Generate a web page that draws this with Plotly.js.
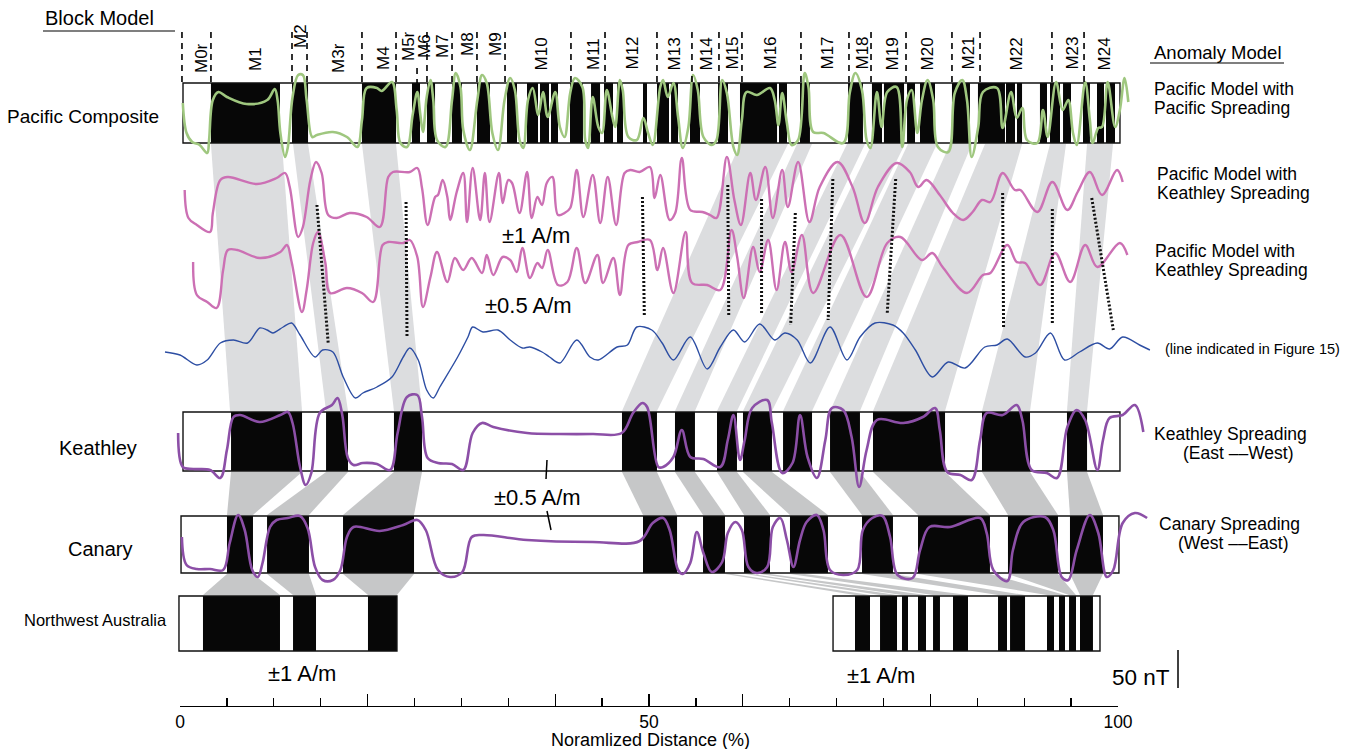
<!DOCTYPE html>
<html><head><meta charset="utf-8">
<script src="https://cdn.plot.ly/plotly-3.0.1.min.js"></script>
<style>html,body{margin:0;padding:0;background:#fff;}#chart{width:1359px;height:749px;}</style>
</head><body><div id="chart"></div>
<script>
// ---------------- DATA (distance in % of normalized distance) ----------------
const chronLabels = ['M0r','M1','M2','M3r','M4','M5r','M6','M7','M8','M9','M10','M11','M12','M13','M14','M15','M16','M17','M18','M19','M20','M21','M22','M23','M24'];
const chronPos = [2.24,7.99,12.79,16.84,21.64,24.31,26.01,27.93,30.60,33.58,38.59,44.03,48.19,52.77,56.18,58.85,62.90,68.98,72.71,76.01,79.74,84.01,89.23,95.10,98.61];
const chronBounds = [0.21,3.30,11.94,13.54,19.40,23.03,25.27,26.33,29.00,31.66,34.65,41.68,45.31,50.85,54.58,57.46,59.91,66.20,71.32,73.67,77.40,82.30,85.29,92.96,96.38];

// Pacific composite block model (normal polarity blocks)
const pacStart = [3.30,11.94,19.40,24.73,26.33,29.00,31.66,34.86,36.99,38.38,39.55,41.58,43.82,45.20,46.59,49.36,50.85,52.35,54.37,57.36,59.70,63.86,66.10,71.22,73.77,75.05,77.51,78.89,82.30,85.07,88.06,89.23,91.68,92.75,94.14,96.27,97.76,98.72];
const pacEnd   = [10.66,13.65,23.03,25.59,27.19,30.06,33.05,35.93,38.17,39.34,40.30,42.96,44.78,46.16,47.23,49.79,52.13,53.09,55.44,58.42,63.65,64.71,67.16,72.81,74.84,77.19,78.36,80.49,84.22,87.95,89.02,89.77,92.43,93.82,94.99,97.01,98.51,99.68];
const keaStart = [5.44,15.57,22.81,47.12,52.77,57.25,60.02,64.29,69.30,73.88,85.50,94.56];
const keaEnd   = [13.01,17.91,25.80,50.85,54.90,59.38,63.11,67.38,72.49,81.56,90.62,96.70];
const canStart = [5.01,9.28,17.38,49.36,55.76,60.13,65.03,72.71,78.68,88.27,94.88];
const canEnd   = [7.78,13.75,24.95,52.99,58.10,62.90,69.08,76.01,86.35,93.60,98.40];
const nwaStart = [2.45,12.05,20.04,71.96,74.63,76.97,78.68,80.28,82.41,87.21,88.49,92.43,93.71,94.78,95.95];
const nwaEnd   = [10.66,14.50,23.13,73.56,76.44,77.61,79.53,81.02,84.01,88.17,90.09,93.18,94.35,95.52,97.33];
const pacBox = [0.32,100.21], keaBox = [0.32,100.21], canBox = [0.11,100.10];
const nwaBoxL = [-0.11,23.13], nwaBoxR = [69.62,98.08];

// Anomaly profiles (x: %, amplitude: arbitrary units, positive up)
const pacX = [0.3,0.7,1.3,2.1,2.9,3.1,3.5,4.1,5.0,7.1,9.3,10.1,10.4,10.7,11.2,11.5,12.0,12.6,13.1,13.5,14.1,14.6,16.3,17.8,18.9,19.4,19.9,21.0,21.5,22.6,23.1,23.5,24.2,24.8,25.3,25.6,25.9,26.3,26.7,27.0,27.4,28.3,29.0,29.4,29.9,30.2,30.9,31.7,32.2,32.7,33.3,33.9,34.6,35.2,35.7,36.2,36.6,37.1,37.6,38.2,38.7,39.2,40.0,40.5,41.0,41.6,42.1,42.9,43.2,43.5,44.0,44.6,45.0,45.5,46.1,46.4,46.9,47.2,47.8,48.7,49.4,49.9,50.4,51.2,51.5,52.0,52.6,53.1,53.6,54.2,54.7,55.2,55.8,56.7,57.2,57.8,58.3,59.0,59.4,59.9,60.4,61.5,62.9,63.4,63.8,64.2,64.7,65.2,65.9,66.6,67.0,67.5,68.6,70.7,71.4,72.0,72.7,73.2,73.6,74.3,74.8,75.4,76.4,77.0,77.5,78.0,78.6,79.1,79.7,80.3,80.8,81.9,82.6,83.4,83.9,84.4,85.1,85.6,87.1,87.7,88.6,89.2,89.8,90.3,91.4,92.0,92.5,93.4,94.1,94.7,95.2,95.6,96.5,97.0,97.3,97.9,98.3,98.9,99.7,100.2,100.7,101.1];
const pacAmp = [10,-20,-29,-32,-40,-27,13,21,16,9,13,24,13,-20,-44,-34,16,38,38,13,-24,-22,-19,-24,-34,-7,25,25,22,31,3,-30,-34,-2,21,0,-19,16,33,13,-27,-34,13,40,26,-17,-37,13,38,30,-20,-37,13,35,23,-27,-35,13,25,-2,21,-4,21,-14,-24,20,35,26,-27,-35,16,-14,-20,23,-4,-14,33,23,-24,-27,-5,-20,-32,26,33,16,30,-4,-35,-14,38,23,-24,-32,-27,33,20,-34,-42,-7,21,18,25,13,-12,20,-10,-32,-27,40,26,-19,-20,-30,20,40,23,-27,-35,21,-14,21,26,-34,13,23,-20,13,33,13,-34,-39,20,33,13,-44,-14,21,25,-15,21,-5,5,-27,-30,3,-24,31,3,13,-20,-32,31,-7,-30,-15,-14,31,-14,3,35,11];

const pk1X = [0.5,0.9,1.8,3.2,3.5,4.3,5.1,8.2,10.3,11.2,11.7,12.6,13.1,13.9,14.5,15.1,15.8,16.7,18.1,19.9,21.3,22.2,22.7,24.5,25.3,25.8,26.4,27.2,27.5,28.0,28.5,28.8,29.5,30.2,30.6,31.2,32.0,32.5,33.0,34.0,34.4,35.0,35.4,36.2,37.0,37.5,38.1,38.6,39.1,39.7,40.3,41.0,41.6,42.3,43.0,44.0,44.8,45.6,46.5,47.4,48.0,49.0,50.1,50.6,51.2,52.2,52.8,53.5,54.4,55.7,56.5,57.2,58.3,59.1,59.8,60.8,61.4,62.4,63.2,64.2,64.8,65.9,67.1,68.2,70.1,71.7,73.0,74.4,76.4,77.8,78.7,79.6,81.0,82.4,83.5,84.5,85.5,86.4,87.7,89.0,89.6,91.4,93.0,94.6,95.7,97.0,98.3,99.9,100.5];
const pk1Amp = [5,-23,-30,-37,-18,15,18,11,17,22,8,-42,-32,15,33,22,-20,-23,-18,-22,-32,18,23,23,27,7,-30,-2,0,15,-2,-25,3,22,-27,27,-25,22,-27,22,-8,15,12,-18,23,-23,-2,-10,12,18,-20,-18,-13,25,-22,20,-28,18,-30,22,25,23,28,-3,20,-25,-18,37,-15,-17,-20,-23,38,-5,-30,22,-5,28,-23,25,-12,33,-27,8,33,8,-28,8,32,23,8,15,0,-18,-25,-17,-5,-7,22,5,5,-17,13,-15,3,23,0,25,13];

const pk2X = [1.4,1.8,2.9,3.9,4.6,5.1,6.1,8.5,10.7,11.4,11.9,13.0,13.5,14.2,14.7,15.5,16.0,17.8,19.4,20.6,21.6,22.2,23.8,24.5,25.3,25.9,26.7,27.4,28.5,29.3,30.2,31.1,32.2,32.7,33.4,34.4,35.2,35.9,36.5,37.3,38.1,38.6,39.2,40.3,41.3,42.3,43.2,44.5,45.1,46.2,46.9,47.8,48.8,50.1,50.9,51.5,52.6,53.9,54.6,56.2,57.6,58.8,59.4,60.1,61.1,61.8,62.7,63.6,64.5,65.2,66.3,67.5,70.4,73.2,75.4,76.8,79.1,80.2,81.3,83.9,85.6,86.4,88.2,89.2,90.1,91.7,93.3,94.9,96.5,97.8,100.2,101.0];
const pk2Amp = [8,-25,-32,-38,0,20,20,12,18,25,8,-42,-20,27,38,7,-23,-18,-23,-32,25,28,27,30,13,-37,-7,18,-12,12,0,12,-3,15,-5,13,10,-2,22,-8,7,2,20,-15,-12,22,-13,15,-13,12,-25,25,28,30,0,22,-23,38,-13,-15,-20,40,13,-28,23,-2,30,-20,28,-2,35,-23,35,-27,27,33,10,17,3,-23,-5,-3,25,8,7,-15,17,-12,25,3,27,15];

const obsX = [-1.6,0.0,1.8,2.9,4.3,5.7,7.2,8.5,9.3,9.9,11.0,11.9,12.8,14.4,15.2,16.3,17.4,18.7,19.5,21.0,22.6,23.8,24.5,25.4,26.3,27.0,27.7,29.6,30.7,31.2,32.3,33.9,35.2,36.5,37.3,38.6,39.4,40.5,42.3,43.7,44.6,46.6,47.7,48.7,50.3,51.4,52.6,54.4,56.2,57.6,59.0,60.2,61.8,63.4,64.5,65.8,67.2,69.3,71.1,72.5,74.1,76.0,77.1,78.4,80.2,81.9,83.7,85.8,87.1,88.2,90.1,91.2,92.8,94.3,95.9,97.8,99.1,100.5,102.3,103.4];
const obsAmp = [3,0,-10,-5,12,15,12,27,25,22,28,32,20,-2,5,3,-22,-43,-38,-32,-22,-2,7,-5,-35,-43,-32,-2,18,28,23,25,15,7,8,3,-2,-8,15,-2,-5,8,10,28,25,12,-5,18,-14,8,25,13,31,15,22,15,-8,28,-5,18,32,30,22,5,-22,-7,-13,8,10,16,-2,2,22,-5,3,12,6,18,10,5];

const keaX = [-0.2,0.3,1.4,3.2,4.3,5.0,5.7,6.4,8.5,10.7,11.5,12.0,12.8,13.4,14.0,14.9,16.2,16.8,17.3,17.9,18.5,19.5,21.0,22.4,23.2,24.2,25.3,25.8,26.4,27.5,29.0,30.2,31.2,32.2,33.4,37.0,40.5,44.0,47.1,48.3,49.3,49.8,51.0,51.5,52.6,53.5,54.4,55.8,57.6,58.4,59.0,59.7,60.2,61.0,62.6,63.1,64.2,65.3,66.1,66.9,67.9,68.8,69.5,70.7,71.6,72.4,73.2,74.3,77.1,79.2,80.5,81.0,81.8,83.2,84.4,85.3,86.0,87.7,89.2,89.8,90.8,92.4,93.5,94.6,95.6,96.5,97.8,98.4,99.1,100.5,101.8,102.7];
const keaAmp = [8,-26,-28,-29,-37,-9,24,26,19,26,29,18,-26,-44,-32,28,36,43,26,-17,-24,-22,-23,-29,8,44,46,24,-17,-22,-23,-29,8,18,14,8,7,7,8,28,38,34,-26,-26,-16,11,-16,-18,-26,1,26,-19,1,33,41,18,-32,-22,26,-16,-37,1,33,31,4,-46,-9,21,18,24,33,11,-31,-34,-39,1,28,26,36,21,-29,-32,-37,14,31,21,-29,1,23,26,36,9];

const canX = [0.2,0.7,1.8,3.2,4.6,5.3,6.2,6.9,7.7,8.3,8.8,9.6,10.3,11.5,12.8,13.6,14.4,15.2,16.3,17.1,17.8,18.5,21.3,23.8,25.3,26.2,27.5,28.8,30.1,31.1,32.3,37.0,44.0,49.0,50.4,51.5,52.2,53.1,53.6,54.4,55.1,55.8,56.7,57.8,58.4,59.2,59.9,60.6,61.5,62.6,63.2,64.0,64.7,65.4,66.1,66.8,67.9,68.6,69.3,70.7,72.2,72.8,73.8,74.9,75.7,76.5,78.1,78.9,79.9,82.1,85.3,86.0,86.7,88.2,88.8,89.9,92.2,93.1,94.0,94.7,95.6,97.0,97.9,98.8,99.5,100.5,101.8,103.1];
const canAmp = [8,-20,-24,-24,-25,2,30,15,-25,-32,-18,18,25,27,29,17,-22,-35,-35,-25,8,18,14,20,25,15,-25,-32,-27,8,10,5,3,4,22,27,15,-25,-29,-18,13,-8,-27,-17,12,23,15,-22,-28,-22,18,27,5,-22,5,23,30,15,-25,-30,-25,15,27,29,8,-30,-33,-5,18,18,27,12,-25,-36,-5,23,28,15,-32,-35,-5,30,12,-32,-25,22,32,27];

// Correlation bands: [upper start, upper end, lower start, lower end]
const pacKeaBands = [[3.30,10.87,5.33,13.01],[12.05,13.65,15.57,17.91],[19.40,23.03,22.81,25.80],[59.70,64.82,47.12,50.85],[65.78,67.38,52.77,54.90],[71.11,73.03,57.25,59.38],[73.77,77.29,60.02,63.11],[77.61,80.70,64.29,67.38],[82.09,84.43,69.30,72.49],[85.82,89.77,73.88,81.56],[92.75,94.46,85.50,90.62],[96.70,99.47,94.56,96.70]];
const keaCanBands = [[5.44,13.01,5.01,7.78],[15.57,17.91,9.28,13.75],[22.81,25.80,17.38,24.95],[47.12,50.85,49.36,52.99],[52.77,54.90,55.76,58.10],[57.25,59.38,60.13,62.90],[60.02,63.11,65.03,69.08],[69.30,72.49,72.71,76.01],[73.88,81.56,78.68,86.35],[85.50,90.62,88.27,93.60],[94.56,96.70,94.88,98.40]];
const canNwaBands = [[5.01,7.78,2.45,10.66],[9.28,13.75,12.05,14.50],[17.38,24.95,20.04,23.13],[58.10,58.96,71.96,73.56],[60.23,60.98,74.63,76.44],[61.83,62.90,76.97,79.53],[65.03,66.63,80.28,84.01],[72.71,76.01,87.21,90.09],[78.68,86.35,92.43,94.35],[88.27,93.60,94.78,95.52],[94.88,98.40,95.95,97.33]];

// Picked correlation ticks (dotted): top x, bottom x (%)
const dotTopX = [14.6,24.1,49.3,58.4,62.0,65.6,69.6,76.3,87.7,93.0,97.2];
const dotBotX = [15.8,24.2,49.5,58.5,62.0,65.1,69.1,75.4,87.8,93.0,99.5];

// ---------------- LAYOUT helpers (pixel rows) ----------------
const FONT = 'Liberation Sans, Arial, Helvetica, sans-serif';
const W = 1359, H = 749, X0 = 180, PPU = 9.38;
const X = px => (px - X0) / PPU;
const R = {pacTop:83, pacBot:143, pacMid:113, pk1:195, pk2:270, obs:355, keaTop:412, keaBot:471, keaMid:441, canTop:516, canBot:573, canMid:545, nwaTop:596, nwaBot:651};
const dotTopY = [205,202,197,185,199,213,179,179,193,209,198];
const dotBotY = [343,338,315,315,315,325,320,313,328,325,330];
const chronBottom = [75,73,50,75,72,63,60,60,58,58,72,72,72,72,72,72,72,72,72,72,72,72,72,72,72];

const shapes = [];
const LIGHT = '#dcdddf', DARK = '#c6c7c8', BLK = '#070707';
function band(b, yT, yB, col){
  shapes.push({type:'path', xref:'x', yref:'y', layer:'below', line:{width:0}, fillcolor:col,
    path:`M${b[0]},${yT} L${b[1]},${yT} L${b[3]},${yB} L${b[2]},${yB} Z`});
}
pacKeaBands.forEach(b => band(b, R.pacBot+1, R.keaTop-1, LIGHT));
keaCanBands.forEach(b => band(b, R.keaBot+1, R.canTop-1, DARK));
canNwaBands.forEach(b => band(b, R.canBot+1, R.nwaTop-1, DARK));

function blocks(s, e, y0, y1){
  for (let i=0;i<s.length;i++) shapes.push({type:'rect', xref:'x', yref:'y', layer:'below', x0:s[i], x1:e[i], y0:y0, y1:y1, fillcolor:BLK, line:{width:0}});
}
function box(b, y0, y1){
  shapes.push({type:'rect', xref:'x', yref:'y', layer:'below', x0:b[0], x1:b[1], y0:y0, y1:y1, fillcolor:'rgba(0,0,0,0)', line:{color:'#111', width:1.4}});
}
blocks(pacStart, pacEnd, R.pacTop, R.pacBot); box(pacBox, R.pacTop, R.pacBot);
blocks(keaStart, keaEnd, R.keaTop, R.keaBot); box(keaBox, R.keaTop, R.keaBot);
blocks(canStart, canEnd, R.canTop, R.canBot); box(canBox, R.canTop, R.canBot);
blocks(nwaStart, nwaEnd, R.nwaTop, R.nwaBot); box(nwaBoxL, R.nwaTop, R.nwaBot); box(nwaBoxR, R.nwaTop, R.nwaBot);

// chron boundary dashes
chronBounds.forEach((c,i) => shapes.push({type:'line', xref:'x', yref:'y', x0:c, x1:c, y0:(i===6?68:32), y1:R.pacTop, line:{color:'#000', width:1.6, dash:'6px,5px'}}));

// underlines, scale bar and small tick lines
const plain = (x0,y0,x1,y1,w) => shapes.push({type:'line', xref:'x', yref:'y', x0:X(x0), x1:X(x1), y0:y0, y1:y1, line:{color:'#000', width:w}});
plain(43,31,175,31,1.2);
plain(1150,63,1284,63,1.2);
plain(1178,650,1178,688,1.5);
plain(547,460,546,479,1.5);
plain(547,511,551,530,1.5);

// ---------------- TRACES ----------------
function curve(xs, amps, base, color, width, sm){
  const n = Math.min(xs.length, amps.length);
  return {x:xs.slice(0,n), y:amps.slice(0,n).map(a => base - a), xaxis:'x', yaxis:'y', mode:'lines',
    line:{color:color, width:width, shape:'spline', smoothing:sm}, hoverinfo:'skip', showlegend:false};
}
const traces = [
  {x:[0,100], y:[-50,-50], xaxis:'x2', yaxis:'y', mode:'markers', marker:{opacity:0}, hoverinfo:'skip', showlegend:false},
  curve(pacX, pacAmp, R.pacMid, '#9fc77f', 2.6, 1.0),
  curve(pk1X, pk1Amp, R.pk1, '#cc70b4', 2.4, 1.0),
  curve(pk2X, pk2Amp, R.pk2, '#cc70b4', 2.4, 1.0),
  curve(obsX, obsAmp, R.obs, '#2d4ea3', 1.4, 0.9),
  curve(keaX, keaAmp, R.keaMid, '#8c4fa7', 2.6, 1.0),
  curve(canX, canAmp, R.canMid, '#8c4fa7', 2.6, 1.0)
];
for (let i=0;i<dotTopX.length;i++){
  traces.push({x:[dotTopX[i], dotBotX[i]], y:[dotTopY[i], dotBotY[i]], mode:'lines', line:{color:'#111', width:3, dash:'2px,2px'}, hoverinfo:'skip', showlegend:false});
}

// ---------------- ANNOTATIONS ----------------
const ann = [];
function txt(t, xpx, ypx, size, xa, extra){
  ann.push(Object.assign({text:t, x:X(xpx), y:ypx, xref:'x', yref:'y', showarrow:false, xanchor:xa||'left', yanchor:'middle',
    font:{family:FONT, size:size, color:'#000'}}, extra||{}));
}
chronLabels.forEach((l,i) => ann.push({text:l, x:chronPos[i], y:chronBottom[i], xref:'x', yref:'y', showarrow:false, textangle:-90,
  xanchor:'center', yanchor:'bottom', font:{family:FONT, size:17, color:'#000'}}));
txt('Block Model', 43, 18, 20);
txt('Anomaly Model', 1152, 52, 18.5);
txt('Pacific Composite', 5, 116, 19);
txt('Pacific Model with', 1152, 89, 17.5); txt('Pacific Spreading', 1152, 108, 17.5);
txt('Pacific Model with', 1155, 174, 17.5); txt('Keathley Spreading', 1155, 193, 17.5);
txt('Pacific Model with', 1153, 251, 17.5); txt('Keathley Spreading', 1153, 270, 17.5);
txt('(line indicated in Figure 15)', 1163, 349, 14.5);
txt('Keathley', 57, 448, 20);
txt('Keathley Spreading', 1152, 434, 17.5); txt('(East \u2013\u2013West)', 1238, 453, 17.5, 'center');
txt('Canary', 66, 549, 20);
txt('Canary Spreading', 1157, 524, 17.5); txt('(West \u2013\u2013East)', 1233, 543, 17.5, 'center');
txt('Northwest Australia', 22, 620, 16.5);
txt('\u00b11 A/m', 536, 235, 22, 'center');
txt('\u00b10.5 A/m', 528, 305, 22, 'center');
txt('\u00b10.5 A/m', 537, 497, 22, 'center');
txt('\u00b11 A/m', 302, 673, 22, 'center');
txt('\u00b11 A/m', 881, 675, 22, 'center');
txt('50 nT', 1141, 677, 22.5, 'center');
txt('Noramlized Distance (%)', 650, 740, 18, 'center');

const layout = {
  width:W, height:H, margin:{l:0,r:0,t:0,b:0}, paper_bgcolor:'#fff', plot_bgcolor:'rgba(0,0,0,0)', showlegend:false,
  font:{family:FONT, color:'#000'},
  xaxis:{domain:[0,1], range:[X(0), X(W)], visible:false, fixedrange:true},
  yaxis:{domain:[0,1], range:[H,0], visible:false, fixedrange:true},
  xaxis2:{domain:[X0/W, 1118/W], range:[0,100], anchor:'free', position:1-706/H, showline:true, linecolor:'#000', linewidth:1.3,
    ticks:'inside', ticklen:12, tickwidth:1.3, tickcolor:'#000', tickmode:'array', tickvals:[0,20,40,50,60,80,100], ticktext:['0','','','50','','','100'],
    tickfont:{family:FONT, size:17.5, color:'#000'}, ticklabelstandoff:0,
    minor:{ticks:'inside', tickmode:'array', tickvals:[5,10,15,25,30,35,45,55,65,70,75,85,90,95], ticklen:8, tickwidth:1.3, tickcolor:'#000', showgrid:false},
    showgrid:false, zeroline:false, fixedrange:true},
  shapes:shapes, annotations:ann
};
Plotly.newPlot('chart', traces, layout, {displayModeBar:false, staticPlot:true});
</script></body></html>
